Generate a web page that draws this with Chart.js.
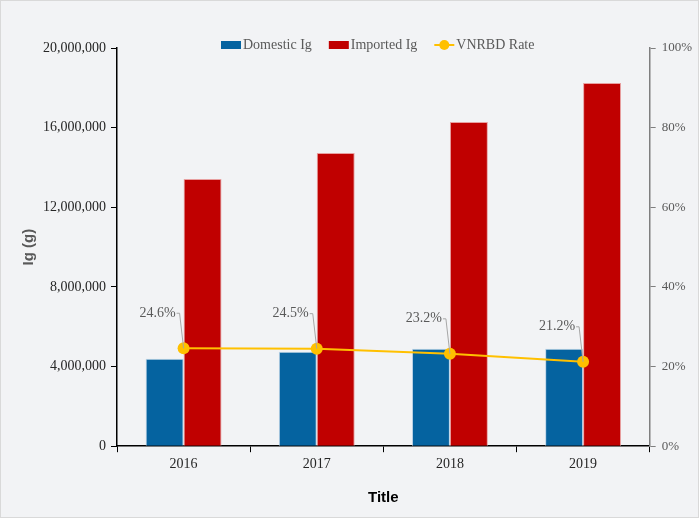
<!DOCTYPE html>
<html>
<head>
<meta charset="utf-8">
<script src="https://cdn.jsdelivr.net/npm/chart.js@4"></script>
<style>
  html, body { margin: 0; padding: 0; background: #fff; }
  #wrap { width: 697px; height: 516px; border: 1px solid #d9d9d9; background: #f2f3f5; }
</style>
</head>
<body>
<div id="wrap"><canvas id="chart" width="697" height="516"></canvas></div>
<script>
// Chart data
const years = ['2016', '2017', '2018', '2019'];
const domesticIg = [4390000, 4740000, 4890000, 4890000];
const importedIg = [13420000, 14720000, 16280000, 18240000];
const vnrbdRate = [24.6, 24.5, 23.2, 21.2];

const serif = "'Liberation Serif', 'DejaVu Serif', serif";
const sans = "'Liberation Sans', Arial, sans-serif";
const blue = '#0563a0';
const red = '#c00000';
const gold = '#ffc000';

// Percentage labels with a small leader line, placed up-left of each point
const rateLabels = {
    id: 'rateLabels',
    afterDatasetsDraw(chart) {
        const meta = chart.getDatasetMeta(2);
        const ctx = chart.ctx;
        ctx.save();
        ctx.font = '14px ' + serif;
        ctx.fillStyle = '#595959';
        ctx.strokeStyle = '#a6a6a6';
        ctx.lineWidth = 1;
        ctx.textAlign = 'right';
        ctx.textBaseline = 'middle';
        meta.data.forEach((pt, i) => {
            const ty = pt.y - 35;
            const tx = pt.x - 8;
            ctx.fillText(vnrbdRate[i].toFixed(1) + '%', tx, ty);
            ctx.beginPath();
            ctx.moveTo(tx + 1, ty);
            ctx.lineTo(pt.x - 4, ty);
            ctx.lineTo(pt.x, pt.y);
            ctx.stroke();
        });
        ctx.restore();
    }
};

// Legend drawn by hand so it can sit just above the plot top
const topLegend = {
    id: 'topLegend',
    afterDraw(chart) {
        const ctx = chart.ctx;
        const y = 44;
        ctx.save();
        ctx.font = '14px ' + serif;
        ctx.textBaseline = 'middle';
        ctx.textAlign = 'left';
        let x = 220;
        chart.data.datasets.forEach(d => {
            if (d.type === 'line') {
                ctx.strokeStyle = gold;
                ctx.lineWidth = 2;
                ctx.beginPath();
                ctx.moveTo(x, y);
                ctx.lineTo(x + 20, y);
                ctx.stroke();
                ctx.fillStyle = gold;
                ctx.beginPath();
                ctx.arc(x + 10, y, 5, 0, Math.PI * 2);
                ctx.fill();
            } else {
                ctx.fillStyle = d.backgroundColor;
                ctx.fillRect(x, y - 4, 20, 8);
            }
            ctx.fillStyle = '#595959';
            ctx.fillText(d.label, x + 22, y);
            x += 22 + ctx.measureText(d.label).width + 17;
        });
        ctx.restore();
    }
};

new Chart(document.getElementById('chart'), {
    type: 'bar',
    data: {
        labels: years,
        datasets: [{
            label: 'Domestic Ig',
            data: domesticIg,
            backgroundColor: blue,
            borderColor: '#bcd3e6',
            borderWidth: 1,
            yAxisID: 'y',
            order: 2
        }, {
            label: 'Imported Ig',
            data: importedIg,
            backgroundColor: red,
            borderColor: '#e8a0a0',
            borderWidth: 1,
            yAxisID: 'y',
            order: 2
        }, {
            type: 'line',
            label: 'VNRBD Rate',
            data: vnrbdRate,
            borderColor: gold,
            backgroundColor: gold,
            borderWidth: 2,
            pointRadius: 6,
            pointHoverRadius: 6,
            pointBorderWidth: 0,
            yAxisID: 'y1',
            order: 1
        }]
    },
    options: {
        responsive: false,
        animation: false,
        layout: { padding: { top: 47, right: 0, left: 19, bottom: 10 } },
        datasets: {
            bar: { categoryPercentage: 0.57, barPercentage: 1 }
        },
        plugins: {
            legend: { display: false },
            tooltip: { enabled: false }
        },
        scales: {
            x: {
                grid: { display: true, drawOnChartArea: false, drawTicks: true, tickLength: 6, offset: true, color: '#000' },
                border: { color: '#000', width: 1.5 },
                ticks: { color: '#262626', font: { family: serif, size: 14 }, padding: 4 },
                title: { display: true, text: 'Title', color: '#000', font: { family: sans, size: 15, weight: 'bold' }, padding: { top: 12, bottom: 0 } }
            },
            y: {
                position: 'left',
                min: 0,
                max: 20000000,
                grid: { display: true, drawOnChartArea: false, drawTicks: true, tickLength: 6, color: '#000' },
                border: { color: '#000', width: 1.5 },
                ticks: {
                    stepSize: 4000000,
                    color: '#262626',
                    font: { family: serif, size: 14 },
                    padding: 5,
                    callback: v => v.toLocaleString('en-US')
                },
                title: { display: true, text: 'Ig (g)', color: '#595959', font: { family: sans, size: 15, weight: 'bold' }, padding: { top: 0, bottom: 0 } }
            },
            y1: {
                position: 'right',
                min: 0,
                max: 100,
                grid: { display: true, drawOnChartArea: false, drawTicks: true, tickLength: 6, color: '#7f7f7f' },
                border: { color: '#7f7f7f', width: 1.5 },
                ticks: {
                    stepSize: 20,
                    color: '#595959',
                    font: { family: serif, size: 13 },
                    padding: 6,
                    callback: v => v + '%'
                }
            }
        }
    },
    plugins: [rateLabels, topLegend]
});
</script>
</body>
</html>
